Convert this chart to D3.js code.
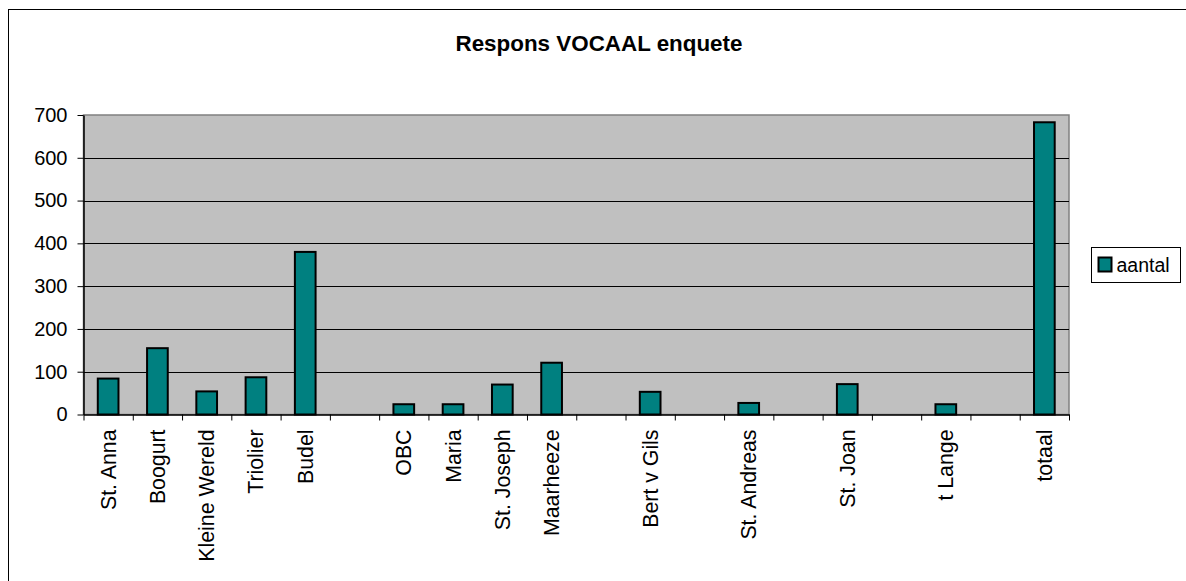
<!DOCTYPE html>
<html>
<head>
<meta charset="utf-8">
<title>Respons VOCAAL enquete</title>
<style>
  body { margin: 0; background: #fff; }
  svg text { font-family: "Liberation Sans", Arial, sans-serif; fill: #000; }
</style>
</head>
<body>
<script src="https://cdn.jsdelivr.net/npm/d3@7"></script>
<script>
// empty strings are the blank slots on the category axis
var categories = ["St. Anna", "Boogurt", "Kleine Wereld", "Triolier", "Budel", "",
                  "OBC", "Maria", "St. Joseph", "Maarheeze", "", "Bert v Gils", "",
                  "St. Andreas", "", "St. Joan", "", "t Lange", "", "totaal"];
var aantal = [84, 155, 54, 87, 380, null,
              24, 24, 70, 121, null, 53, null,
              27, null, 71, null, 24, null, 683];
var yTicks = [0, 100, 200, 300, 400, 500, 600, 700];
var seriesName = "aantal";
var title = "Respons VOCAAL enquete";

var W = 1186, H = 581;
var plot = {left: 83.5, top: 115, right: 1069, bottom: 414.5};

var svg = d3.select("body").append("svg")
  .attr("width", W).attr("height", H);

// outer chart frame (runs past right/bottom edge like the screenshot)
svg.append("rect")
  .attr("x", 8.5).attr("y", 9.5)
  .attr("width", W + 20).attr("height", H + 20)
  .attr("fill", "none").attr("stroke", "#000").attr("stroke-width", 1);

var x = d3.scaleBand()
  .domain(d3.range(categories.length))
  .range([plot.left, plot.right])
  .paddingInner(0.58).paddingOuter(0.29);

var xTickScale = d3.scaleLinear()
  .domain([0, categories.length])
  .range([plot.left, plot.right]);

var y = d3.scaleLinear()
  .domain([0, 700])
  .range([plot.bottom, plot.top]);

// plot background
svg.append("rect")
  .attr("x", plot.left).attr("y", plot.top)
  .attr("width", plot.right - plot.left).attr("height", plot.bottom - plot.top)
  .attr("fill", "#c0c0c0").attr("stroke", "#808080").attr("stroke-width", 1.5);

// gridlines
svg.append("g").selectAll("line")
  .data(yTicks.filter(function(d){ return d > 0 && d < 700; }))
  .enter().append("line")
  .attr("x1", plot.left).attr("x2", plot.right)
  .attr("y1", function(d){ return Math.round(y(d)) + 0.5; })
  .attr("y2", function(d){ return Math.round(y(d)) + 0.5; })
  .attr("stroke", "#000").attr("stroke-width", 1);

// bars
svg.append("g").selectAll("rect")
  .data(aantal.map(function(v, i){ return {i: i, v: v}; }).filter(function(d){ return d.v != null; }))
  .enter().append("rect")
  .attr("x", function(d){ return x(d.i); })
  .attr("width", x.bandwidth())
  .attr("y", function(d){ return y(d.v); })
  .attr("height", function(d){ return y(0) - y(d.v); })
  .attr("fill", "#008080")
  .attr("stroke", "#000").attr("stroke-width", 2);

// y axis
var yAxis = svg.append("g")
  .attr("transform", "translate(" + plot.left + ",0)")
  .call(d3.axisLeft(y).tickValues(yTicks).tickSize(6).tickPadding(10).tickSizeOuter(0));
yAxis.select(".domain").attr("stroke", "#000").attr("stroke-width", 1.5);
yAxis.selectAll(".tick line").attr("stroke", "#000");
yAxis.selectAll("text").style("font-size", "20px").attr("fill", "#000")
  .attr("font-family", "Liberation Sans, Arial, sans-serif");

// x axis line and ticks at category boundaries
var xAxis = svg.append("g")
  .attr("transform", "translate(0," + plot.bottom + ")")
  .call(d3.axisBottom(xTickScale).tickValues(d3.range(categories.length + 1))
        .tickSize(6).tickSizeOuter(0).tickFormat(""));
xAxis.select(".domain").attr("stroke", "#000").attr("stroke-width", 1.5);
xAxis.selectAll(".tick line").attr("stroke", "#000");

// category labels, rotated
svg.append("g").selectAll("text")
  .data(categories.map(function(c, i){ return {c: c, i: i}; }).filter(function(d){ return d.c !== ""; }))
  .enter().append("text")
  .attr("transform", function(d){
    return "translate(" + (x(d.i) + x.bandwidth() / 2 + 7.5) + "," + (plot.bottom + 15) + ") rotate(-90)";
  })
  .style("text-anchor", "end")
  .style("font-size", "21.3px")
  .text(function(d){ return d.c; });

// title
svg.append("text")
  .attr("x", 599).attr("y", 51)
  .style("text-anchor", "middle")
  .style("font-size", "22.4px")
  .style("font-weight", "bold")
  .text(title);

// legend
var legend = svg.append("g").attr("transform", "translate(1091.5,247.5)");
legend.append("rect")
  .attr("width", 89).attr("height", 35)
  .attr("fill", "#fff").attr("stroke", "#000").attr("stroke-width", 1);
legend.append("rect")
  .attr("x", 7).attr("y", 10).attr("width", 13).attr("height", 14)
  .attr("fill", "#008080").attr("stroke", "#000").attr("stroke-width", 2);
legend.append("text")
  .attr("x", 25).attr("y", 24)
  .style("font-size", "19.5px")
  .text(seriesName);
</script>
</body>
</html>
